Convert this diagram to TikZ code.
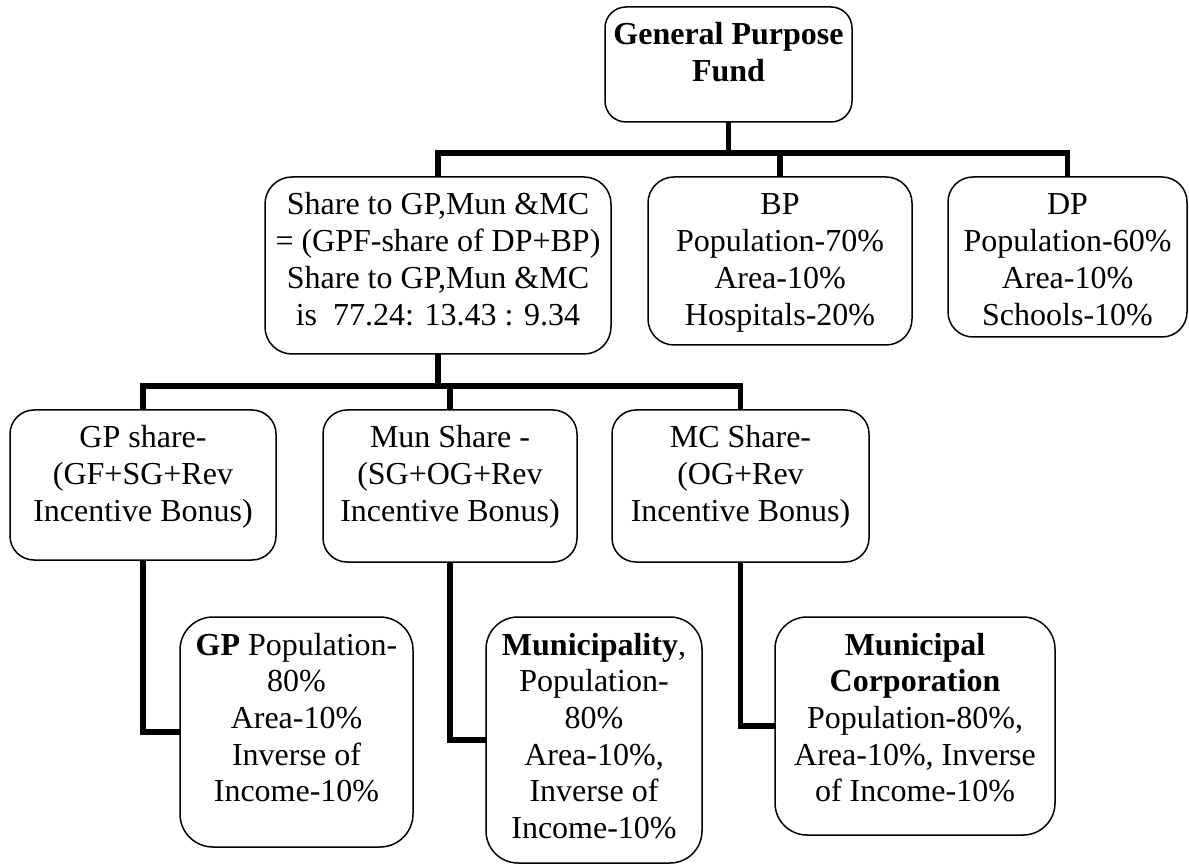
\documentclass[tikz,border=0pt]{standalone}
\usepackage{fontspec}
\setmainfont{Liberation Serif}
\newcommand\boxtext[3]{\parbox[c][#2][t]{#1}{\centering\rule{0pt}{38pt}#3}}
\tikzset{
  box/.style={draw, line width=1.5pt, rounded corners=24pt, inner sep=0pt, outer sep=0pt,
              anchor=north west, font=\fontsize{32}{36.7}\selectfont},
  conn/.style={draw, line width=5.5pt, line join=miter}
}
\begin{document}
\begin{tikzpicture}[x=1pt,y=-1pt]
\useasboundingbox (0,0) rectangle (1189,866);
% boxes
\node[box, rounded corners=21pt] (top) at (605,7) {\boxtext{247pt}{115pt}{\bfseries General Purpose\\Fund}};
\node[box, rounded corners=27pt] (share) at (265,177) {\boxtext{346pt}{177pt}{Share to GP,Mun \&MC\\= (GPF-share of DP+BP)\\Share to GP,Mun \&MC\\is\ \ 77.24: 13.43 : 9.34}};
\node[box, rounded corners=26pt] (bp) at (648,177) {\boxtext{264pt}{168pt}{BP\\Population-70\%\\Area-10\%\\Hospitals-20\%}};
\node[box, rounded corners=25pt] (dp) at (948,177) {\boxtext{239pt}{160pt}{DP\\Population-60\%\\Area-10\%\\Schools-10\%}};
\node[box] (gps) at (10,410) {\boxtext{266pt}{150pt}{GP share-\\(GF+SG+Rev\\Incentive Bonus)}};
\node[box] (muns) at (323,410) {\boxtext{254pt}{152pt}{Mun Share -\\(SG+OG+Rev\\Incentive Bonus)}};
\node[box] (mcs) at (612,410) {\boxtext{257pt}{152pt}{MC Share-\\(OG+Rev\\Incentive Bonus)}};
\node[box, rounded corners=33pt] (gpd) at (180,617) {\boxtext{233pt}{230pt}{\textbf{GP} Population-\\80\%\\Area-10\%\\Inverse of\\Income-10\%}};
\node[box, rounded corners=32pt] (mund) at (486,617) {\boxtext{216pt}{246pt}{\textbf{Municipality},\\Population-\\80\%\\Area-10\%,\\Inverse of\\Income-10\%}};
\node[box, rounded corners=32pt] (mcd) at (775,617) {\boxtext{280pt}{218pt}{\textbf{Municipal}\\\textbf{Corporation}\\Population-80\%,\\Area-10\%, Inverse\\of Income-10\%}};
% junction levels
\coordinate (j1) at (0,153);
\coordinate (j2) at (0,386);
% connectors, level 1
\draw[conn] (top.south) -- (top.south |- j1);
\draw[conn] (share.north) -- (share.north |- j1) -- (dp.north |- j1) -- (dp.north);
\draw[conn] (bp.north |- j1) -- (bp.north);
% connectors, level 2
\draw[conn] (share.south) -- (share.south |- j2);
\draw[conn] (gps.north) -- (gps.north |- j2) -- (mcs.north |- j2) -- (mcs.north);
\draw[conn] (muns.north |- j2) -- (muns.north);
% connectors, level 3
\draw[conn] (gps.south) |- (gpd.west);
\draw[conn] (muns.south) |- (mund.west);
\draw[conn] (mcs.south) |- (mcd.west);
\end{tikzpicture}
\end{document}
